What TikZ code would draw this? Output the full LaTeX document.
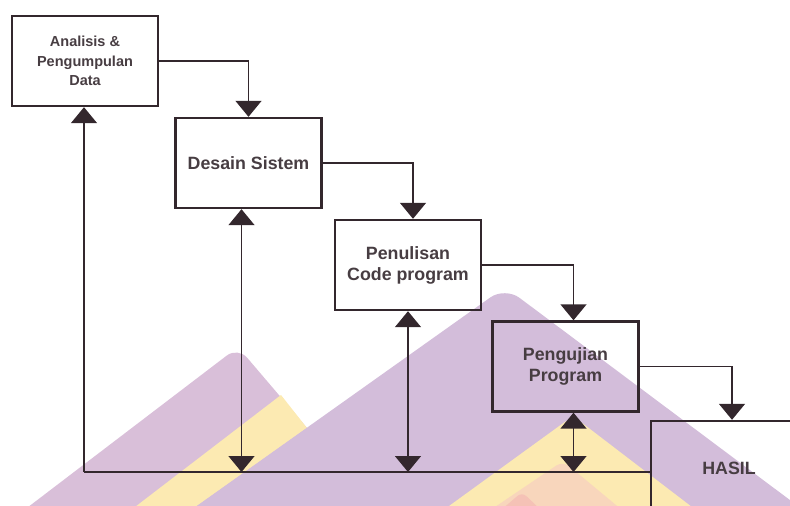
\documentclass[tikz,border=0pt]{standalone}
\usepackage{fontspec}
\setmainfont{Liberation Sans}
\usetikzlibrary{arrows.meta}
\definecolor{ink}{HTML}{33272D}
\definecolor{mauve}{HTML}{D9BFD9}
\definecolor{lilac}{HTML}{D3BDDA}
\definecolor{butter}{HTML}{FCEAB2}
\definecolor{peach}{HTML}{F8D6BC}
\definecolor{blush}{HTML}{F5C2B6}

\begin{document}
\begin{tikzpicture}
[x=1pt,y=-1pt,>={Triangle[width=26pt,length=16pt]},
 box/.style={draw=ink,line width=2.4pt,minimum width=146pt,minimum height=90pt,align=center,text=ink!90,font=\bfseries\fontsize{17.8}{21}\selectfont},
 small/.style={font=\bfseries\fontsize{14.5}{19.5}\selectfont},
 wire/.style={draw=ink,line width=1.5pt},
 flow/.style={wire,->},
 both/.style={wire,<->}]
\useasboundingbox (0,0) rectangle (790,506);
\clip (0,0) rectangle (790,506);

% watermark behind the chart
\fill[mauve,rounded corners=14pt] (-2,530) -- (238,347) -- (394,530) -- cycle;
\fill[butter] (105,530) -- (281,395) -- (307,428) -- (163,530) -- cycle;
\fill[lilac,rounded corners=18pt] (163,530) -- (505,287) -- (830,530) -- cycle;
\fill[butter,rounded corners=10pt] (416,530) -- (573,416) -- (722,530) -- cycle;
\fill[peach,rounded corners=8pt] (461,530) -- (563,461) -- (646,530) -- cycle;
\fill[blush,rounded corners=6pt] (478,530) -- (522,492) -- (562,530) -- cycle;

% the steps
\node[box,small] (analisis) at (85,61) {Analisis \&\\Pengumpulan\\Data};
\node[box] (desain) at (248.5,163) {Desain Sistem};
\node[box] (penulisan) at (408,265) {Penulisan\\Code program};
\node[box] (pengujian) at (565.5,366.5) {Pengujian\\Program};
\node[box,minimum width=156pt,minimum height=94pt] (hasil) at (729,468) {HASIL};

\draw[flow] (analisis.east) -| (desain.north);
\draw[flow] (desain.east) -| ([xshift=5pt]penulisan.north);
\draw[flow] (penulisan.east) -| ([xshift=8pt]pengujian.north);
\draw[flow] (pengujian.east) -| ([xshift=3pt]hasil.north);

% feedback line
\coordinate (fb) at (84,472);
\draw[wire] (fb) -- (fb -| hasil.west);
\draw[flow] (fb) -- (fb |- analisis.south);
\draw[both] ([xshift=-7pt]desain.south) -- ([xshift=-7pt]desain.south |- fb);
\draw[both] (penulisan.south) -- (penulisan.south |- fb);
\draw[both] ([xshift=8pt]pengujian.south) -- ([xshift=8pt]pengujian.south |- fb);
\end{tikzpicture}
\end{document}
